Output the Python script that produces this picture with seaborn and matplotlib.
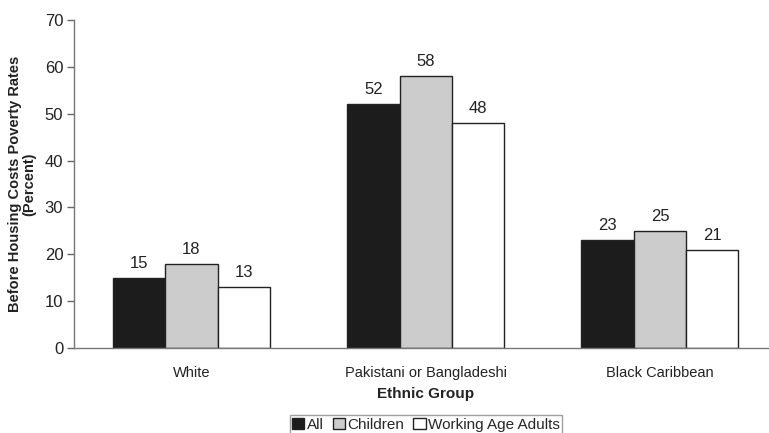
import matplotlib
matplotlib.use("Agg")
import matplotlib.pyplot as plt
import seaborn as sns
import pandas as pd

groups = ["White", "Pakistani or Bangladeshi", "Black Caribbean"]
series = ["All", "Children", "Working Age Adults"]
all_rates = [15, 52, 23]
children_rates = [18, 58, 25]
adult_rates = [13, 48, 21]

df = pd.DataFrame({
    "group": groups * 3,
    "series": [s for s in series for _ in groups],
    "rate": all_rates + children_rates + adult_rates,
})

sns.set_theme(style="white")
plt.rcParams["font.family"] = ["Liberation Sans", "DejaVu Sans"]

fig = plt.figure(figsize=(7.69, 4.33), dpi=100)
ax = fig.add_axes([0.0967, 0.1963, 0.9138, 0.7575])

palette = {"All": "#1c1c1c", "Children": "#cccccc", "Working Age Adults": "#ffffff"}
sns.barplot(data=df, x="group", y="rate", hue="series", hue_order=series,
            order=groups, palette=palette, width=0.67, saturation=1,
            edgecolor="#222222", linewidth=1.0, ax=ax, legend=True)

for cont in ax.containers:
    ax.bar_label(cont, fmt="%d", padding=5, fontsize=12, color="#222222")

ax.set_ylim(0, 70)
ax.set_yticks(range(0, 71, 10))
ax.set_xlim(-0.5, 2.5)
ax.tick_params(axis="y", length=5, width=1, color="#666666", labelsize=12,
               labelcolor="#222222", pad=3, left=True)
ax.tick_params(axis="x", length=0, labelsize=10.5, labelcolor="#222222", pad=13)
for s in ["top", "right"]:
    ax.spines[s].set_visible(False)
for s in ["left", "bottom"]:
    ax.spines[s].set_color("#777777")
    ax.spines[s].set_linewidth(1.0)

ax.set_xlabel("Ethnic Group", fontsize=11, fontweight="bold", labelpad=5,
              color="#222222")
ax.set_ylabel("Before Housing Costs Poverty Rates\n(Percent)", fontsize=10.5,
              fontweight="bold", labelpad=6, linespacing=1.0, color="#222222")

handles, labels = ax.get_legend_handles_labels()
ax.get_legend().remove()
fig.legend(handles, labels, loc="upper center", bbox_to_anchor=(0.554, 0.041),
           ncol=3, frameon=True, fancybox=False, edgecolor="#888888",
           fontsize=11, handlelength=0.8, handleheight=0.8, handletextpad=0.15,
           columnspacing=0.6, borderpad=0.15, borderaxespad=0)

fig.savefig("out.png", dpi=100)
